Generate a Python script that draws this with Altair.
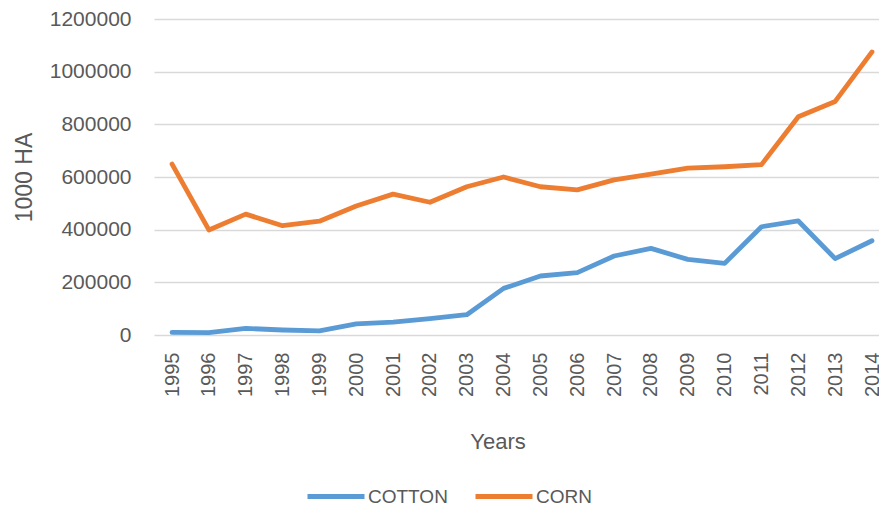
import altair as alt
import pandas as pd

# Harvested area by crop, 1995-2014 (1000 HA)
years = [1995, 1996, 1997, 1998, 1999, 2000, 2001, 2002, 2003, 2004,
         2005, 2006, 2007, 2008, 2009, 2010, 2011, 2012, 2013, 2014]
cotton = [10000, 9000, 25000, 19000, 16000, 42000, 49000, 62000, 77000, 177000,
          224000, 237000, 300000, 329000, 287000, 272000, 411000, 433000, 290000, 358000]
corn = [649000, 399000, 459000, 415000, 432000, 490000, 535000, 504000, 563000, 600000,
        563000, 551000, 589000, 611000, 634000, 639000, 647000, 829000, 887000, 1075000]

series = ["COTTON", "CORN"]
colors = ["#5B9BD5", "#ED7D31"]
y_ticks = [0, 200000, 400000, 600000, 800000, 1000000, 1200000]

df = pd.concat([
    pd.DataFrame({"year": years, "value": cotton, "crop": "COTTON"}),
    pd.DataFrame({"year": years, "value": corn, "crop": "CORN"}),
])

text_color = "#595959"

chart = alt.Chart(df).mark_line(
    strokeWidth=4.8, strokeCap="round", strokeJoin="round"
).encode(
    x=alt.X(
        "year:Q",
        scale=alt.Scale(domain=[1994.51, 2014.19], nice=False, zero=False),
        axis=alt.Axis(
            values=years, format="d", labelAngle=270, labelFontSize=20,
            labelPadding=17, labelOverlap=False, labelFlush=False,
            tickSize=0, domain=False, grid=False,
            title="Years", titleFontSize=22, titleFontWeight="normal",
            titleX=343.5, titleY=106, titleBaseline="middle",
        ),
    ),
    y=alt.Y(
        "value:Q",
        scale=alt.Scale(domain=[0, 1200000], nice=False),
        axis=alt.Axis(
            values=y_ticks, format="d", labelFontSize=21, labelPadding=23,
            tickSize=0, domain=False, grid=True, gridColor="#D9D9D9", gridWidth=1.5,
            title="1000 HA", titleFontSize=23, titleFontWeight="normal",
            titleAngle=270, titleX=-130, titleY=158, titleBaseline="middle",
        ),
    ),
    color=alt.Color(
        "crop:N",
        sort=series,
        scale=alt.Scale(domain=series, range=colors),
        legend=alt.Legend(
            title=None, orient="none", legendX=151, legendY=446.5,
            direction="horizontal", symbolType="stroke", symbolSize=3249,
            symbolStrokeWidth=5, labelFontSize=19, labelColor=text_color,
            labelOffset=1, columnPadding=17,
        ),
    ),
).properties(
    width=725, height=316,
    autosize=alt.AutoSizeParams(type="none"),
    padding={"left": 154, "top": 19, "right": 0, "bottom": 171},
).configure(
    font="Liberation Sans",
).configure_view(
    stroke=None,
).configure_axis(
    labelColor=text_color, titleColor=text_color,
)

chart.save("out.html", embed_options={"renderer": "svg", "actions": False})
